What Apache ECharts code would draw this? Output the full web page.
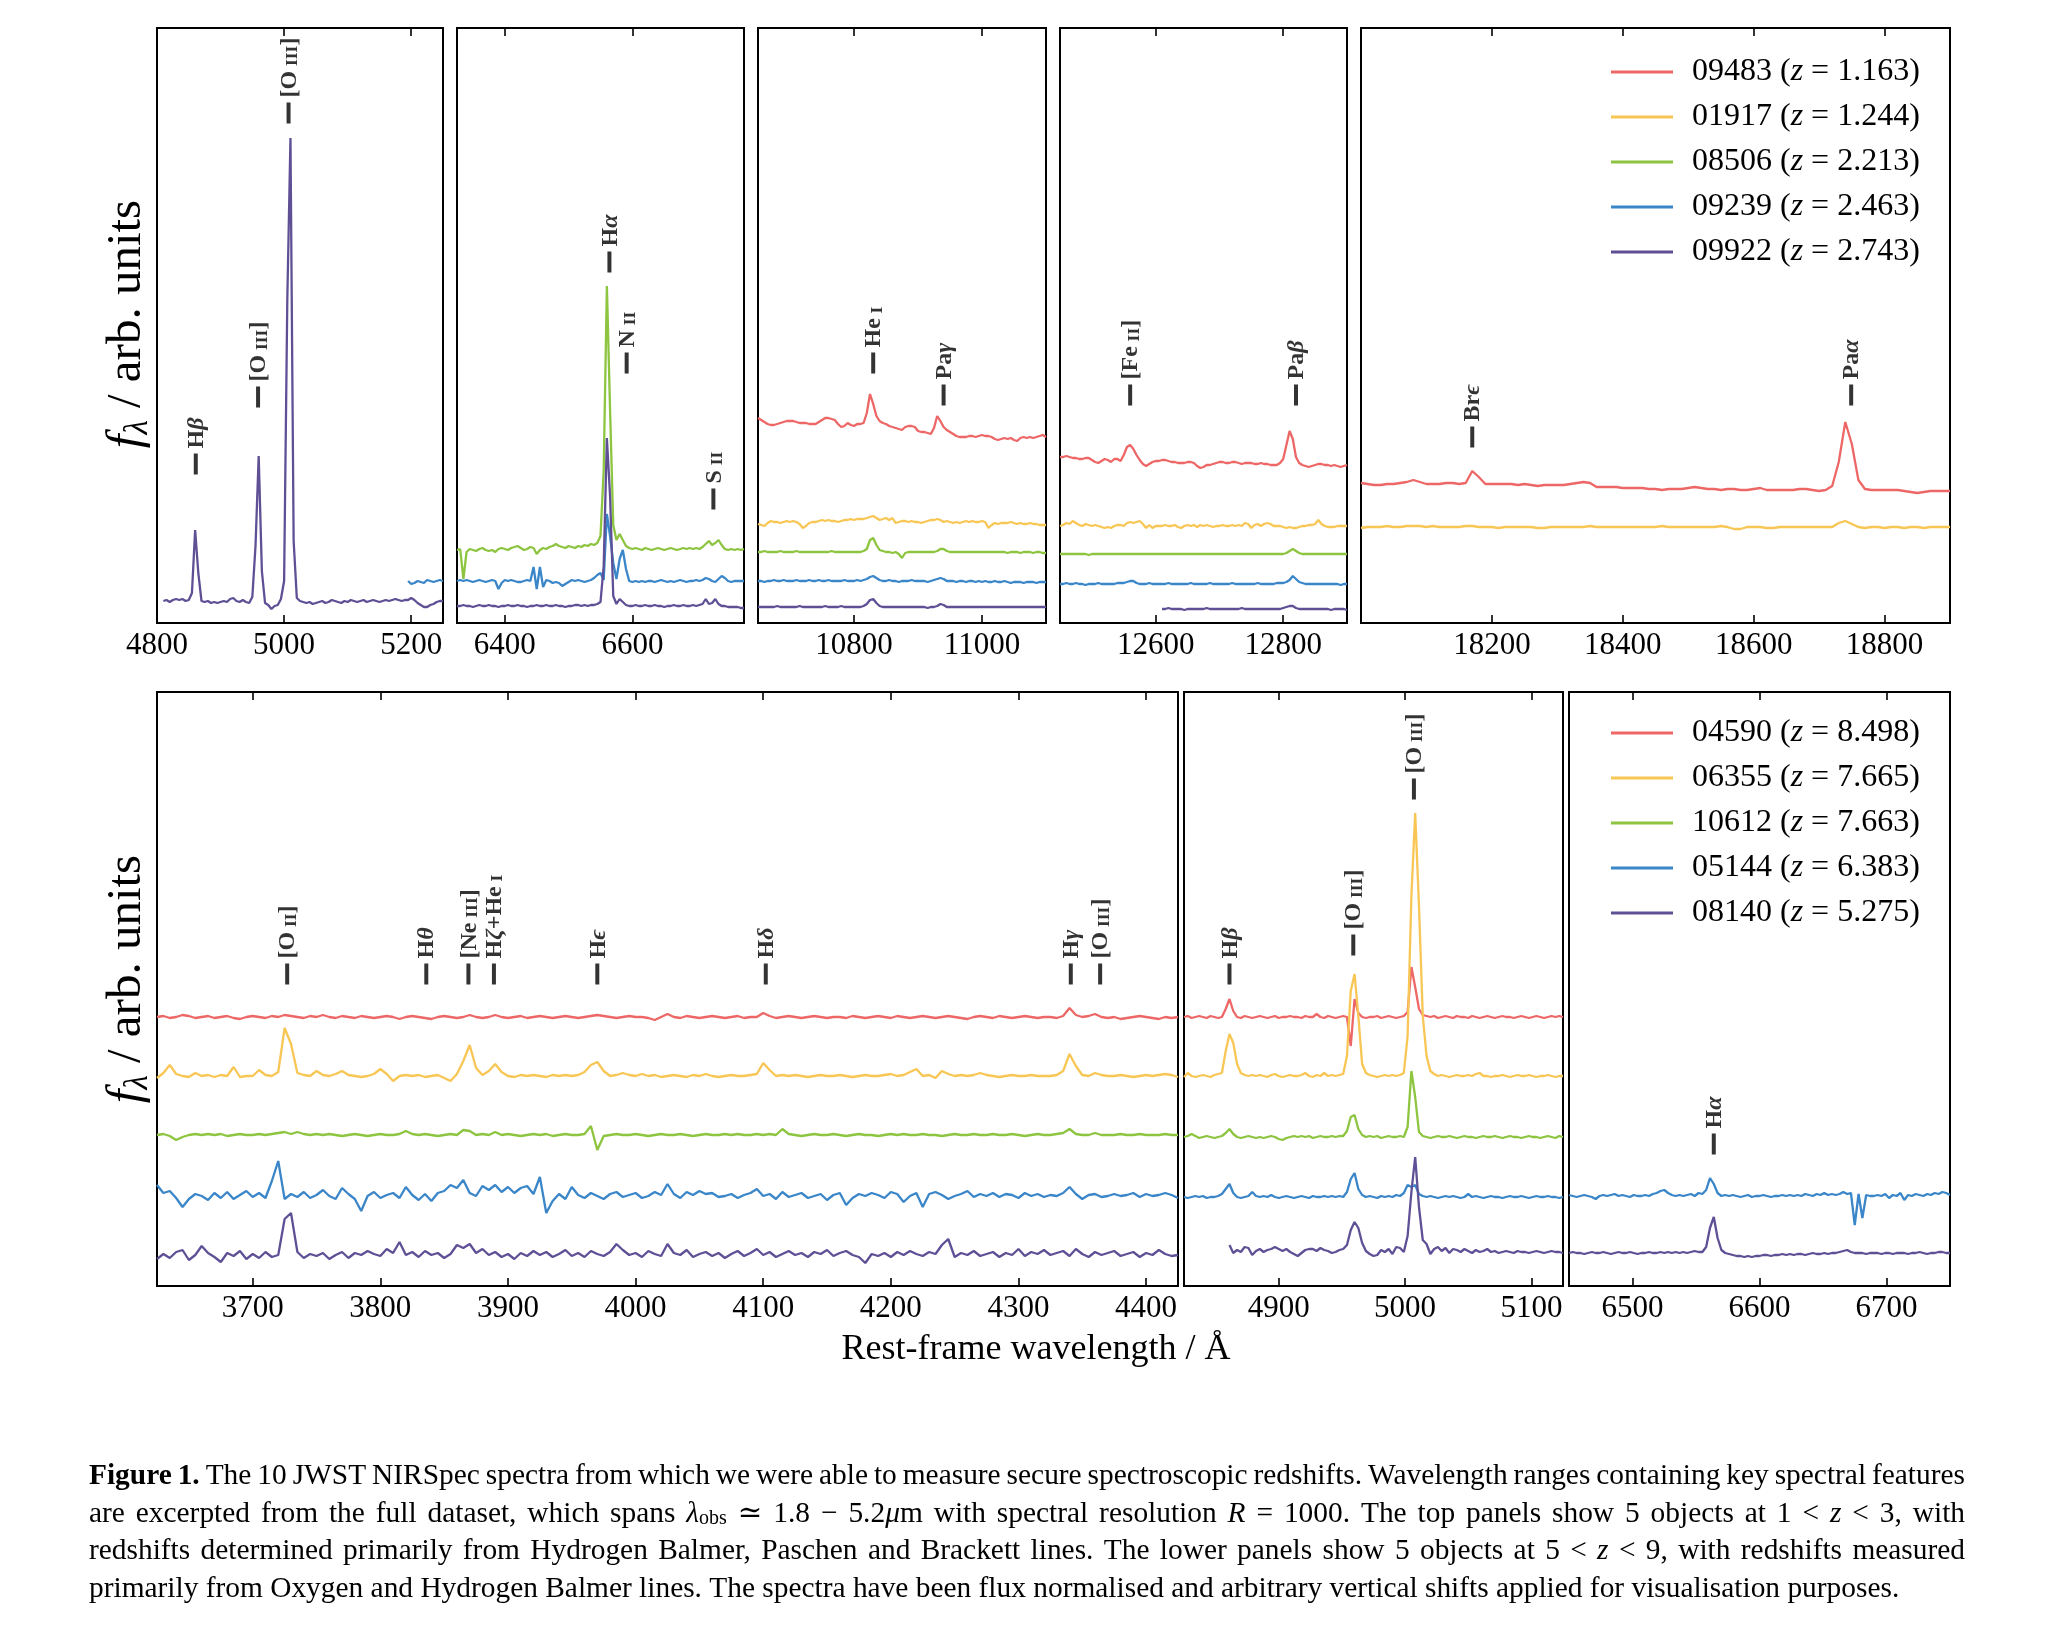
<!DOCTYPE html>
<html>
<head>
<meta charset="utf-8">
<script src="https://cdn.jsdelivr.net/npm/echarts@6.0.0/dist/echarts.min.js"></script>
<style>
html,body{margin:0;padding:0;background:#fff;}
#chart{width:2054px;height:1630px;}
</style>
</head>
<body>
<div id="chart"></div>
<script>
// ---------------- names & colours ----------------
const COLORS = ['#ED6767', '#F8C655', '#8DC440', '#3A86C8', '#5F5096'];
const TOP_NAMES = ['09483 (z = 1.163)', '01917 (z = 1.244)', '08506 (z = 2.213)', '09239 (z = 2.463)', '09922 (z = 2.743)'];
const BOTTOM_NAMES = ['04590 (z = 8.498)', '06355 (z = 7.665)', '10612 (z = 7.663)', '05144 (z = 6.383)', '08140 (z = 5.275)'];

// ---------------- panel wavelength ranges (rest-frame, Angstrom) ----------------
const PANEL_XMIN = [4800, 6325, 10650, 12450, 18000, 3625, 4825, 6450];
const PANEL_XMAX = [5250, 6775, 11100, 12900, 18900, 4425, 5125, 6750];
const PANEL_TICKS = [
  [4800, 5000, 5200], [6400, 6600], [10800, 11000], [12600, 12800], [18200, 18400, 18600, 18800],
  [3700, 3800, 3900, 4000, 4100, 4200, 4300, 4400], [4900, 5000, 5100], [6500, 6600, 6700]
];
const PANEL_YMAX = [595, 595, 595, 595, 595, 594, 594, 594];

// ---------------- spectra: flux relative to each spectrum's shift (arb. units) ----------------
// Top panel 1 (step 5)
const T1_09922 = [0,1,-1,1,2,1,2,0,
 1,8,71,28,0,-1,0,-2,-1,-2,
 -1,0,-1,2,3,0,-1,1,-1,-2,
 4,55,145,30,-2,-4,-8,-5,-4,2,
 20,300,463,60,3,0,-1,-2,-1,-3,
 -2,-1,0,-2,-1,1,0,-1,-2,0,
 -1,1,0,-1,0,1,-1,0,1,0,
 -1,0,1,0,1,2,1,0,1,1,
 3,1,-2,-4,-6,-6,-4,-3,-1,0,
 0];
const T1_09239 = [0,-3,-2,0,-1,-2,1,0,-1,0,1,0];

// Top panel 2 (step 5, from 6325)
const T2_08506 = [0,1,-29,-2,1,0,-1,1,2,0,
 -1,0,-2,1,2,1,0,2,3,4,
 2,0,1,3,2,-4,0,2,1,3,
 4,6,4,3,2,4,3,2,4,3,
 5,4,6,5,7,14,80,264,140,25,
 10,16,10,4,2,1,2,1,0,2,
 1,0,1,2,1,0,1,2,1,0,
 1,2,1,2,1,2,1,3,6,9,
 5,7,10,5,1,0,1,0,1,0,
 1];
const T2_09239 = [0,1,0,1,0,-1,0,1,0,-1,
 0,1,0,-8,-2,1,0,1,0,-1,
 -1,0,1,0,14,-8,14,-6,1,0,
 -2,-1,-2,-5,-3,-1,1,0,1,0,
 -1,0,1,3,6,8,1,67,45,18,
 2,22,31,12,0,-1,0,-1,0,-1,
 0,0,-1,0,1,0,-1,0,-1,0,
 1,0,-1,0,0,1,0,1,3,2,
 0,-1,2,5,3,0,-1,0,0,0,
 0];
const T2_09922 = [0,0,1,0,0,-1,0,1,0,0,
 1,0,0,-1,0,0,1,0,0,1,
 0,0,-1,0,0,1,0,0,1,0,
 0,1,0,0,-1,0,0,1,1,0,
 1,0,1,1,2,4,40,168,110,10,
 2,7,4,1,0,0,1,0,0,1,
 0,0,1,0,0,-1,0,0,1,0,
 0,1,0,0,1,0,1,2,7,2,
 3,7,2,0,0,-1,-1,-1,-1,-2,
 -2];

// Top panel 3 (step 5, from 10650)
const T3_09483 = [0,-2,-4,-6,-7,-7,-6,-5,-4,-3,
 -3,-3,-4,-5,-5,-5,-6,-6,-6,-4,
 -2,0,0,-1,-2,-6,-9,-8,-5,-7,
 -8,-6,-6,-5,5,24,14,2,-3,-5,
 -6,-8,-9,-10,-11,-12,-9,-8,-8,-9,
 -13,-14,-14,-15,-16,-10,2,-3,-9,-12,
 -14,-16,-18,-19,-19,-19,-18,-18,-19,-18,
 -17,-18,-18,-19,-21,-22,-21,-20,-21,-20,
 -22,-23,-20,-19,-20,-19,-20,-19,-18,-17,
 -19];
const T3_01917 = [-2,-3,-4,-1,1,0,0,-1,0,1,
 0,1,0,-2,-6,-4,-1,0,0,1,
 2,1,2,1,1,0,1,2,2,3,
 2,3,3,3,4,5,6,4,2,3,
 4,2,4,-1,0,1,1,0,1,0,
 0,-1,0,1,2,2,3,2,0,1,
 0,-1,0,-1,0,1,0,1,0,0,
 1,0,-6,-3,-1,-2,-1,-1,-1,0,
 -1,-2,-1,-2,-2,-1,-2,-2,-3,-3,
 -3];
const T3_08506 = [0,0,1,0,0,0,0,1,0,0,
 0,0,1,0,0,0,0,0,0,0,
 0,0,0,1,0,0,0,0,0,0,
 0,0,0,1,3,12,14,7,2,1,
 0,0,-1,0,-2,-6,-1,0,0,0,
 0,0,0,0,0,0,1,3,3,1,
 0,0,0,0,0,0,0,0,0,0,
 0,0,0,0,0,0,0,0,-1,0,
 0,0,-1,0,0,0,-1,0,0,-1,
 -1];
const T3_09239 = [0,0,-1,0,0,1,0,0,1,0,
 0,0,1,0,0,0,1,0,0,1,
 0,0,1,0,0,0,0,1,0,0,
 0,1,0,1,2,4,5,3,1,0,
 0,1,0,0,-1,0,0,0,1,0,
 0,0,0,-1,0,1,2,3,2,0,
 0,0,-1,0,0,-1,0,0,-1,0,
 -1,0,-1,-1,0,-1,-1,0,-1,-2,
 -1,-1,-1,-2,-1,-1,-1,-2,-1,-1,
 -1];
const T3_09922 = [0,0,0,0,0,0,1,0,0,0,
 0,0,0,1,0,0,0,0,0,0,
 0,1,0,0,0,0,1,0,0,0,
 0,0,0,1,3,7,8,4,1,0,
 0,0,0,0,0,0,0,0,0,0,
 0,0,0,-1,0,0,1,3,2,0,
 0,0,0,0,0,0,0,0,0,0,
 0,0,0,0,0,0,0,0,0,0,
 0,0,0,0,0,0,0,0,0,0,
 0];

// Top panel 4 (step 5, from 12450)
const T4_09483 = [0,0,1,0,-1,-1,-2,-2,-1,-1,
 -3,-5,-6,-4,-2,-3,-5,-2,-2,-4,
 2,10,12,8,2,-3,-7,-9,-7,-5,
 -4,-4,-3,-3,-4,-5,-5,-6,-6,-6,
 -5,-5,-6,-9,-11,-10,-8,-8,-7,-6,
 -5,-5,-6,-6,-5,-5,-6,-7,-6,-6,
 -6,-7,-7,-6,-7,-7,-8,-8,-8,-6,
 -2,12,26,18,0,-6,-8,-9,-10,-9,
 -8,-7,-7,-8,-8,-9,-8,-9,-10,-9,
 -8];
const T4_01917 = [0,1,3,2,5,3,1,0,2,1,
 0,1,0,-1,-2,-1,-2,0,1,1,
 0,3,4,3,4,5,2,-2,1,-2,
 0,0,0,1,0,0,1,-1,-2,0,
 1,0,1,-1,1,0,1,0,-1,0,
 0,1,0,0,1,0,1,0,3,2,
 -2,1,2,0,2,3,2,0,0,0,
 -1,-2,-1,-2,-2,-1,0,0,1,1,
 2,6,2,0,-1,-1,-1,0,0,0,
 0];
const T4_08506 = [0,0,0,0,0,0,0,0,0,-1,
 0,0,0,0,0,0,0,0,0,0,
 0,0,0,0,0,0,0,0,0,0,
 0,0,0,0,0,0,0,0,0,0,
 0,0,0,0,0,0,0,0,0,0,
 0,0,0,0,0,0,0,0,0,0,
 0,0,0,0,0,0,0,0,0,0,
 0,1,3,5,3,1,0,0,0,0,
 0,0,0,0,0,0,0,0,0,0,
 0];
const T4_09239 = [0,0,1,0,0,1,0,0,-1,0,
 0,0,1,0,0,0,0,0,1,1,
 1,2,3,3,1,0,0,0,1,0,
 0,0,0,0,1,0,0,0,0,0,
 0,1,0,0,0,0,0,1,0,0,
 0,0,0,0,1,0,0,0,0,0,
 0,0,1,0,0,0,0,0,1,1,
 1,2,4,8,5,2,1,0,0,0,
 0,0,0,0,0,0,0,0,-1,0,
 0];
const T4_09922 = [0,0,1,0,0,0,0,-1,0,0,
 0,0,0,0,1,0,0,0,0,0,
 0,0,0,0,0,1,0,0,0,0,
 0,0,0,0,0,0,0,0,1,2,
 3,3,1,0,0,0,0,0,0,0,
 0,0,0,-1,0,0,0,0,-1];

// Top panel 5 (step 10, from 18000)
const T5_09483 = [1,0,-1,-1,0,0,1,2,4,2,
 0,0,0,1,1,0,1,13,7,0,
 0,0,0,0,-1,0,-1,-2,-1,-1,
 -1,-1,0,1,2,1,-3,-3,-3,-3,
 -4,-4,-4,-4,-5,-5,-6,-5,-5,-5,
 -4,-3,-4,-5,-5,-6,-5,-5,-6,-6,
 -5,-4,-6,-6,-6,-6,-6,-5,-5,-6,
 -7,-6,-2,22,62,40,4,-5,-6,-6,
 -6,-6,-6,-7,-8,-9,-8,-7,-7,-7,
 -7];
const T5_01917 = [-1,0,0,0,1,0,0,1,1,1,
 0,1,0,0,0,0,1,1,0,0,
 0,-1,0,0,0,0,0,-1,-1,0,
 0,0,0,0,0,1,0,0,0,0,
 0,0,0,0,0,0,1,0,0,0,
 0,0,0,0,0,1,0,-2,-2,0,
 0,0,-1,-1,0,0,0,0,0,0,
 0,0,0,4,6,3,0,-1,0,0,
 -1,0,0,-1,0,0,-1,0,0,0,
 0];

// Bottom panel 1 (step 5, from 3625)
const B1_04590 = [0,1,-1,0,2,1,-1,0,1,-1,
 0,1,-1,-2,0,1,0,-1,1,0,
 2,1,0,-1,1,0,2,0,-1,1,
 0,-1,1,0,-1,0,1,0,-2,0,
 1,0,-1,-2,0,1,0,-1,0,2,
 0,-1,0,2,0,-1,0,1,-1,0,
 1,0,-1,0,1,0,-1,0,1,2,
 1,0,-1,0,1,0,0,-1,-3,0,
 3,0,-1,1,0,-1,0,1,0,-1,
 0,1,-1,0,0,4,1,-1,0,1,
 0,-1,0,1,0,-1,0,0,-1,1,
 0,-1,0,1,0,-1,1,0,-1,0,
 1,0,-1,0,1,0,-1,-2,0,1,
 0,-1,1,0,-1,0,1,0,-1,0,
 0,-1,1,9,2,0,1,3,0,-1,
 0,-2,-1,0,1,0,-1,-2,0,-1,
 0];
const B1_06355 = [-2,3,11,2,0,-1,3,0,1,-1,
 1,0,9,-1,0,0,6,1,0,4,
 48,32,3,1,0,5,1,0,2,5,
 1,0,-1,0,2,7,2,-5,0,1,
 0,1,-1,0,1,-2,-5,2,15,31,
 8,1,5,12,4,0,-1,1,0,1,
 0,-1,1,0,1,0,1,4,11,14,
 5,0,1,3,1,0,2,0,1,-1,
 0,1,0,-1,1,0,2,0,-1,0,
 1,0,0,1,2,13,6,0,1,0,
 1,0,-1,0,1,0,0,1,0,-1,
 0,1,0,0,1,2,0,1,4,7,
 0,1,-2,5,2,0,1,0,1,3,
 1,0,-1,0,1,0,0,1,0,0,
 0,1,5,22,10,1,0,3,1,0,
 0,1,0,-1,0,1,0,1,2,1,
 -1];
const B1_10612 = [0,1,-1,-5,-2,0,1,0,1,0,
 1,-1,0,1,0,0,1,0,1,2,
 3,1,3,1,0,1,0,1,0,-1,
 0,1,0,-1,0,1,0,0,1,4,
 1,0,1,0,-1,0,1,0,5,4,
 0,1,0,3,0,1,0,-1,0,1,
 0,1,-1,0,1,0,0,1,9,-15,
 -1,0,1,0,0,1,0,-1,0,1,
 0,0,1,0,-1,0,1,0,0,1,
 0,1,0,0,1,0,1,0,6,1,
 0,-1,0,1,0,0,1,0,-1,0,
 1,0,0,-1,0,1,0,1,0,0,
 1,0,0,-1,0,1,0,0,1,0,
 0,1,0,0,1,0,-1,0,1,0,
 0,1,2,6,1,0,0,2,0,0,
 0,1,0,0,1,0,0,0,1,0,
 0];
const B1_05144 = [11,3,5,-2,-11,-3,2,0,-4,3,
 -2,4,-3,1,5,-1,3,-2,15,35,
 -3,2,-1,4,-2,1,6,0,-3,8,
 2,-3,-15,0,4,-2,1,3,-2,9,
 1,-4,2,-5,3,5,11,8,16,3,
 0,10,6,11,4,9,3,8,10,2,
 19,-17,-5,2,-3,9,1,-2,3,0,
 -3,2,4,-1,1,3,-2,0,4,1,
 12,2,-2,4,1,5,2,3,-1,0,
 2,-2,1,3,7,0,2,-3,4,-1,
 1,3,-2,0,2,-4,1,3,-9,-2,
 2,0,3,1,-2,4,2,-6,0,3,
 -11,2,4,1,-3,0,2,5,-1,2,
 0,3,-1,2,1,-2,3,0,2,-1,
 1,0,3,9,2,-3,1,2,-1,0,
 2,0,1,3,-1,2,0,1,3,1,
 -2];
const B1_08140 = [-2,3,-1,5,7,-3,2,11,4,0,
 -5,4,1,6,-2,3,-1,5,0,2,
 38,44,5,-1,3,1,4,-2,2,5,
 -1,4,2,6,3,1,8,4,15,2,
 5,0,6,2,4,-1,3,12,9,13,
 4,8,2,5,0,3,-2,4,1,6,
 2,5,0,3,7,1,4,0,6,3,
 1,5,13,7,2,4,0,6,3,1,
 13,4,2,7,0,3,5,1,4,-1,
 3,6,1,4,8,2,5,0,3,6,
 2,4,0,5,3,7,1,4,6,2,
 0,-6,3,1,4,0,5,2,6,3,
 1,5,3,12,18,0,4,2,6,1,
 3,5,0,4,2,8,1,5,3,7,
 2,4,6,1,8,3,0,5,2,4,
 6,1,3,5,0,4,2,7,3,1,
 2];

// Bottom panel 2 (step 3, from 4825; 08140 from 4861)
const B2_04590 = [0,1,-1,0,1,0,-1,1,0,-1,
 0,8,18,6,0,-1,1,0,-1,0,
 1,0,-1,0,1,-1,0,0,1,0,
 0,-1,1,0,0,3,0,-1,1,0,
 -1,0,1,0,-29,18,4,0,-1,0,
 0,1,-1,0,1,0,-1,0,1,5,
 50,30,8,2,1,0,1,-1,0,1,
 0,-1,1,0,0,-1,1,0,-1,0,
 1,0,-1,0,1,0,0,-1,0,1,
 0,-1,0,1,0,-1,0,1,0,1,
 0];
const B2_06355 = [-1,3,0,-1,0,1,0,-1,1,2,
 3,25,42,33,12,3,1,0,1,0,
 1,0,-1,1,2,0,-1,0,1,0,
 0,1,3,0,-1,1,0,3,0,1,
 0,1,2,20,85,102,60,12,3,1,
 0,-1,0,1,0,1,0,1,3,40,
 180,263,170,60,20,5,2,0,1,0,
 -1,0,1,0,0,1,0,2,3,0,
 0,-1,0,0,1,0,-1,0,1,0,
 0,1,0,-1,0,0,1,0,-1,0,
 0];
const B2_10612 = [0,1,3,1,-1,0,1,0,-1,0,
 1,4,8,3,0,-1,0,1,0,-1,
 0,-1,0,1,0,-2,-3,-1,0,1,
 0,1,0,1,-1,0,1,0,0,1,
 0,1,1,6,20,22,8,2,0,1,
 0,1,-1,0,1,0,0,1,0,10,
 66,40,5,1,0,-1,0,1,0,0,
 1,0,-1,0,1,0,0,-1,0,1,
 0,0,1,0,-1,0,1,0,0,-1,
 0,1,0,0,-1,0,1,0,-1,1,
 0];
const B2_05144 = [0,-1,0,1,0,1,-1,0,0,1,
 3,8,13,4,0,-1,0,1,5,1,
 0,1,0,2,0,-1,0,1,0,-1,
 0,1,0,-1,1,0,0,1,0,1,
 0,1,0,5,18,24,8,2,0,1,
 0,-1,1,0,1,0,2,1,4,12,
 10,12,3,1,0,1,0,-1,0,1,
 0,1,0,-1,0,3,0,1,0,-1,
 0,1,0,0,-1,0,1,0,0,1,
 0,-1,0,1,0,0,1,0,0,-1,
 0];
const B2_08140 = [7,-1,2,0,5,4,-3,1,3,0,
 2,3,5,3,1,3,0,-2,-4,-1,
 2,3,3,1,4,2,1,-1,0,2,
 3,7,22,30,24,9,1,-2,-4,-3,
 2,0,3,-2,5,4,0,16,60,95,
 45,12,8,-2,3,5,1,4,-1,3,
 2,0,3,1,-1,2,0,1,3,0,
 1,-1,0,1,0,-1,1,0,0,-1,
 0,1,0,-1,0,1,0,0,-1];

// Bottom panel 3 (step 3, from 6450)
const B3_05144 = [1,0,-1,0,1,0,-1,-3,0,1,
 0,1,2,0,1,0,-1,1,0,0,
 1,0,2,3,5,6,3,1,0,1,
 0,1,2,0,3,2,6,18,12,3,
 0,1,0,1,0,-1,0,1,-1,0,
 0,1,0,-1,0,0,1,0,1,0,
 1,0,2,1,0,2,1,3,1,2,
 1,2,4,2,3,-29,2,-22,1,0,
 0,1,0,2,-2,1,0,3,-4,1,
 0,2,1,0,2,1,3,2,4,3,
 1];
const B3_08140 = [0,1,0,0,-1,0,1,0,0,1,
 0,-1,0,1,0,0,1,0,-1,0,
 0,1,0,0,1,0,1,0,1,0,
 1,0,1,2,1,1,6,25,36,15,
 3,0,-1,-2,-3,-3,-4,-3,-4,-3,
 -3,-2,-2,-3,-2,-2,-1,-2,-1,-2,
 -1,-1,-2,-1,0,-1,-1,0,-1,0,
 0,1,2,3,1,0,0,0,-1,0,
 0,0,-1,0,0,-1,0,0,0,-1,
 0,0,1,0,-1,0,0,1,1,0,
 0];

// registry: [panel, object colour index, start wavelength, step, vertical shift, flux]
const SPECTRA = [
  [0, 4, 4810, 5, 22, T1_09922], [0, 3, 5195, 5, 42, T1_09239],
  [1, 2, 6325, 5, 73, T2_08506], [1, 3, 6325, 5, 42, T2_09239], [1, 4, 6325, 5, 17, T2_09922],
  [2, 0, 10650, 5, 205, T3_09483], [2, 1, 10650, 5, 101, T3_01917], [2, 2, 10650, 5, 71, T3_08506],
  [2, 3, 10650, 5, 42, T3_09239], [2, 4, 10650, 5, 16, T3_09922],
  [3, 0, 12450, 5, 166, T4_09483], [3, 1, 12450, 5, 97, T4_01917], [3, 2, 12450, 5, 69, T4_08506],
  [3, 3, 12450, 5, 39, T4_09239], [3, 4, 12610, 5, 14, T4_09922],
  [4, 0, 18000, 10, 139, T5_09483], [4, 1, 18000, 10, 96, T5_01917],
  [5, 0, 3625, 5, 269, B1_04590], [5, 1, 3625, 5, 210, B1_06355], [5, 2, 3625, 5, 151, B1_10612],
  [5, 3, 3625, 5, 90, B1_05144], [5, 4, 3625, 5, 29, B1_08140],
  [6, 0, 4825, 3, 269, B2_04590], [6, 1, 4825, 3, 210, B2_06355], [6, 2, 4825, 3, 149, B2_10612],
  [6, 3, 4825, 3, 89, B2_05144], [6, 4, 4861, 3, 34, B2_08140],
  [7, 3, 6450, 3, 90, B3_05144], [7, 4, 6450, 3, 33, B3_08140]
];

// ---------------- emission line markers ----------------
const LINE_PANEL = [0,0,0, 1,1,1, 2,2, 3,3, 4,4, 5,5,5,5,5,5,5,5, 6,6,6, 7];
const LINE_WAVE = [4861,4959,5007, 6564,6591,6727, 10830,10940, 12560,12820, 18170,18749,
  3727,3836,3869,3889,3970,4102,4341,4364, 4861,4959,5007, 6564];
const LINE_Y = [159,226,510, 361,260,124, 260,228, 228,228, 186,228,
  312,312,312,312,312,312,312,312, 312,341,497, 142];
const LINE_TEXT = [
  '{rm|H}{it|β}', '{rm|[O\u2009}{sc|III}{rm|]}', '{rm|[O\u2009}{sc|III}{rm|]}',
  '{rm|H}{it|α}', '{rm|N\u2009}{sc|II}', '{rm|S\u2009}{sc|II}',
  '{rm|He\u2009}{sc|I}', '{rm|Pa}{it|γ}',
  '{rm|[Fe\u2009}{sc|II}{rm|]}', '{rm|Pa}{it|β}',
  '{rm|Br}{it|ϵ}', '{rm|Pa}{it|α}',
  '{rm|[O\u2009}{sc|II}{rm|]}', '{rm|H}{it|θ}', '{rm|[Ne\u2009}{sc|III}{rm|]}', '{rm|H}{it|ζ}{rm|+He\u2009}{sc|I}',
  '{rm|H}{it|ϵ}', '{rm|H}{it|δ}', '{rm|H}{it|γ}', '{rm|[O\u2009}{sc|III}{rm|]}',
  '{rm|H}{it|β}', '{rm|[O\u2009}{sc|III}{rm|]}', '{rm|[O\u2009}{sc|III}{rm|]}',
  '{rm|H}{it|α}'
];

// ---------------- caption text ----------------
const CAPTION_LINES = [
  [['bd', 'Figure 1.'], ['n', ' The 10 JWST NIRSpec spectra from which we were able to measure secure spectroscopic redshifts. Wavelength ranges containing key spectral features']],
  [['n', 'are excerpted from the full dataset, which spans '], ['it', 'λ'], ['sub', 'obs'], ['n', ' ≃ 1.8 − 5.2'], ['it', 'μ'],
   ['n', 'm with spectral resolution '], ['it', 'R'], ['n', ' = 1000. The top panels show 5 objects at 1 < '], ['it', 'z'], ['n', ' < 3, with']],
  [['n', 'redshifts determined primarily from Hydrogen Balmer, Paschen and Brackett lines. The lower panels show 5 objects at 5 < '], ['it', 'z'], ['n', ' < 9, with redshifts measured']],
  [['n', 'primarily from Oxygen and Hydrogen Balmer lines. The spectra have been flux normalised and arbitrary vertical shifts applied for visualisation purposes.']]
];

// ---------------- layout (pixels) ----------------
const BOX = [
  [157, 28, 286, 595], [457, 28, 287, 595], [758, 28, 288, 595], [1060, 28, 287, 595], [1361, 28, 589, 595],
  [157, 692, 1021, 594], [1184, 692, 379, 594], [1569, 692, 381, 594]
];
const FONT = "'Liberation Serif', 'DejaVu Serif', serif";
const CAP_SIZE = 29.4;
const CAP_Y = [1474, 1512, 1549, 1587];
const CAP_X = 89, CAP_W = 1876;

const chart = echarts.init(document.getElementById('chart'), null, {renderer: 'canvas'});

const grids = [], xAxes = [], yAxes = [], series = [];
BOX.forEach((b, i) => {
  grids.push({left: b[0], top: b[1], width: b[2], height: b[3], show: true,
    borderColor: '#000', borderWidth: 2, backgroundColor: 'rgba(0,0,0,0)'});
});
BOX.forEach((b, i) => {
  xAxes.push({type: 'value', gridIndex: i, min: PANEL_XMIN[i], max: PANEL_XMAX[i], position: 'bottom',
    axisLine: {show: false}, splitLine: {show: false},
    axisTick: {show: true, inside: true, length: 8, lineStyle: {color: '#000', width: 1.6}, customValues: PANEL_TICKS[i]},
    axisLabel: {show: true, customValues: PANEL_TICKS[i], formatter: v => String(v),
      fontFamily: FONT, fontSize: 31, color: '#000', margin: 7}
  });
});
BOX.forEach((b, i) => {
  xAxes.push({type: 'value', gridIndex: i, min: PANEL_XMIN[i], max: PANEL_XMAX[i], position: 'top',
    axisLine: {show: false}, splitLine: {show: false},
    axisTick: {show: true, inside: true, length: 8, lineStyle: {color: '#000', width: 1.6}, customValues: PANEL_TICKS[i]},
    axisLabel: {show: false}
  });
  yAxes.push({type: 'value', gridIndex: i, min: 0, max: PANEL_YMAX[i], show: false});
});

SPECTRA.forEach(s => {
  const [panel, ci, start, step, shift, flux] = s;
  const names = panel < 5 ? TOP_NAMES : BOTTOM_NAMES;
  series.push({
    type: 'line', name: names[ci], xAxisIndex: panel, yAxisIndex: panel,
    data: flux.map((v, k) => [start + k * step, v + shift]),
    symbol: 'none', showSymbol: false, smooth: false, silent: true, z: 2 + ci * 0.01,
    lineStyle: {color: COLORS[ci], width: 2.3}, itemStyle: {color: COLORS[ci]}
  });
});

const LABEL_RICH = {
  rm: {fontFamily: FONT, fontWeight: 'bold', fontSize: 24, color: '#000', verticalAlign: 'bottom', lineHeight: 26},
  it: {fontFamily: FONT, fontWeight: 'bold', fontStyle: 'italic', fontSize: 24, color: '#000', verticalAlign: 'bottom', lineHeight: 26},
  sc: {fontFamily: FONT, fontWeight: 'bold', fontSize: 17.5, color: '#000', verticalAlign: 'bottom', lineHeight: 22}
};
for (let p = 0; p < 8; p++) {
  const data = [];
  LINE_PANEL.forEach((lp, k) => {
    if (lp === p) data.push({value: [LINE_WAVE[k], LINE_Y[k]], label: {formatter: LINE_TEXT[k]}});
  });
  series.push({
    type: 'scatter', name: 'lines' + p, xAxisIndex: p, yAxisIndex: p, data: data,
    symbol: 'rect', symbolSize: [4, 21], itemStyle: {color: '#000'}, silent: true, z: 5,
    label: {show: true, position: 'top', distance: 5, rotate: 90, align: 'left', verticalAlign: 'middle',
      color: '#000', rich: LABEL_RICH}
  });
}

function legendFmt(name) {
  const m = name.match(/^(\d+) \(z = ([\d.]+)\)$/);
  return m[1] + ' ({it|z} = ' + m[2] + ')';
}
const legendBase = {
  orient: 'vertical', icon: 'rect', itemWidth: 62, itemHeight: 3, itemGap: 13, selectedMode: false,
  formatter: legendFmt,
  textStyle: {fontFamily: FONT, fontSize: 32, color: '#000', lineHeight: 32, padding: [0, 0, 0, 14],
    rich: {it: {fontFamily: FONT, fontStyle: 'italic', fontSize: 32, color: '#000'}}}
};

// ---- caption justification (layout only) ----
const mctx = document.createElement('canvas').getContext('2d');
const CAP_RICH_BASE = {
  n: {fontFamily: FONT, fontSize: CAP_SIZE, lineHeight: 34, verticalAlign: 'bottom'},
  bd: {fontFamily: FONT, fontWeight: 'bold', fontSize: CAP_SIZE, lineHeight: 34, verticalAlign: 'bottom'},
  it: {fontFamily: FONT, fontStyle: 'italic', fontSize: CAP_SIZE, lineHeight: 34, verticalAlign: 'bottom'},
  sub: {fontFamily: FONT, fontSize: 20, lineHeight: 28, verticalAlign: 'bottom'}
};
function fontOf(st) {
  return (st.fontStyle || 'normal') + ' ' + (st.fontWeight || 'normal') + ' ' + st.fontSize + 'px ' + FONT;
}
function captionLine(segs, justify) {
  const words = [];
  let cur = {parts: [], w: 0};
  segs.forEach(([st, txt]) => {
    txt.split(' ').forEach((pc, idx) => {
      if (idx > 0) { words.push(cur); cur = {parts: [], w: 0}; }
      if (pc.length) {
        mctx.font = fontOf(CAP_RICH_BASE[st]);
        cur.w += mctx.measureText(pc).width;
        cur.parts.push([st, pc]);
      }
    });
  });
  words.push(cur);
  const ws = words.filter(w => w.parts.length);
  const total = ws.reduce((a, w) => a + w.w, 0);
  mctx.font = fontOf(CAP_RICH_BASE.n);
  let gap = mctx.measureText(' ').width;
  if (justify) gap = (CAP_W - total) / (ws.length - 1);
  const rich = Object.assign({}, CAP_RICH_BASE, {sp: {fontFamily: FONT, fontSize: CAP_SIZE, lineHeight: 34, width: gap}});
  const text = ws.map(w => w.parts.map(p => '{' + p[0] + '|' + p[1] + '}').join('')).join('{sp| }');
  return {text, rich};
}
const captionEls = CAPTION_LINES.map((segs, i) => {
  const c = captionLine(segs, i < CAPTION_LINES.length - 1);
  return {type: 'text', x: CAP_X, y: CAP_Y[i], style: {text: c.text, rich: c.rich, fill: '#000',
    align: 'left', verticalAlign: 'middle', fontFamily: FONT, fontSize: CAP_SIZE}};
});

const YLABEL_RICH = {
  f: {fontFamily: FONT, fontStyle: 'italic', fontSize: 49, lineHeight: 56},
  l: {fontFamily: FONT, fontStyle: 'italic', fontSize: 33, lineHeight: 33, verticalAlign: 'bottom'},
  n: {fontFamily: FONT, fontSize: 49, lineHeight: 56}
};

const option = {
  animation: false,
  backgroundColor: '#fff',
  grid: grids, xAxis: xAxes, yAxis: yAxes, series: series,
  legend: [
    Object.assign({}, legendBase, {data: TOP_NAMES, left: 1606, top: 51}),
    Object.assign({}, legendBase, {data: BOTTOM_NAMES, left: 1606, top: 712})
  ],
  graphic: {elements: [
    {type: 'text', x: 127, y: 324, rotation: Math.PI / 2, style: {
      text: '{f|f}{l|λ}{n| / arb. units}', align: 'center', verticalAlign: 'middle', fill: '#000', rich: YLABEL_RICH}},
    {type: 'text', x: 127, y: 979, rotation: Math.PI / 2, style: {
      text: '{f|f}{l|λ}{n| / arb. units}', align: 'center', verticalAlign: 'middle', fill: '#000', rich: YLABEL_RICH}},
    {type: 'text', x: 1036, y: 1350, style: {text: 'Rest-frame wavelength / Å', align: 'center', verticalAlign: 'middle',
      fontFamily: FONT, fontSize: 36, fill: '#000'}}
  ].concat(captionEls)}
};
chart.setOption(option);
</script>
</body>
</html>
